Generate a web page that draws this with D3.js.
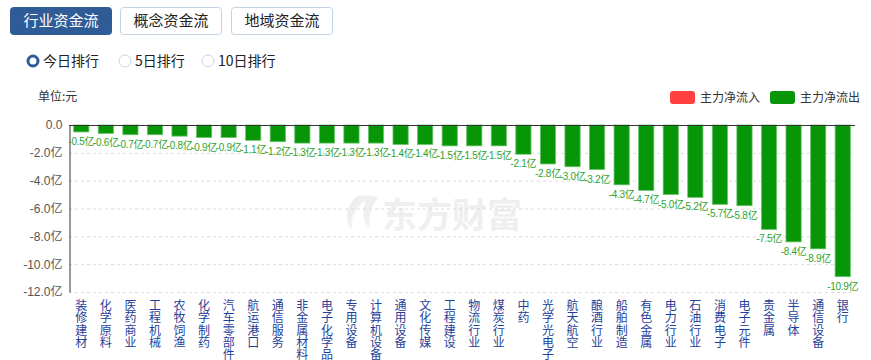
<!DOCTYPE html>
<html><head><meta charset="utf-8">
<script src="https://cdn.jsdelivr.net/npm/d3@7/dist/d3.min.js"></script>
<style>
body{margin:0;background:#fff;font-family:"Microsoft YaHei","Noto Sans CJK SC",sans-serif;}
svg{display:block}
</style></head><body>
<svg id="c" width="871" height="360"></svg>
<script>
const categories = ["装修建材","化学原料","医药商业","工程机械","农牧饲渔","化学制药","汽车零部件","航运港口","通信服务","非金属材料","电子化学品","专用设备","计算机设备","通用设备","文化传媒","工程建设","物流行业","煤炭行业","中药","光学光电子","航天航空","酿酒行业","船舶制造","有色金属","电力行业","石油行业","消费电子","电子元件","贵金属","半导体","通信设备","银行"];
const values = [-0.5,-0.6,-0.7,-0.7,-0.8,-0.9,-0.9,-1.1,-1.2,-1.3,-1.3,-1.3,-1.3,-1.4,-1.4,-1.5,-1.5,-1.5,-2.1,-2.8,-3.0,-3.2,-4.3,-4.7,-5.0,-5.2,-5.7,-5.8,-7.5,-8.4,-8.9,-10.9];
const yTicks = [0,-2,-4,-6,-8,-10,-12];
const tabs = ["行业资金流","概念资金流","地域资金流"];
const radios = ["今日排行","5日排行","10日排行"];
const legendItems = [{name:"主力净流入",color:"#ff4040"},{name:"主力净流出",color:"#079607"}];

const svg = d3.select("#c");
const font = '"Microsoft YaHei","Noto Sans CJK SC",sans-serif';
const numFont = '"Liberation Sans","Noto Sans CJK SC",sans-serif';
const loc = d3.formatLocale({decimal:".",thousands:",",grouping:[3],currency:["",""],minus:"-"});
const f1 = loc.format(".1f");

// tabs
const tabX = [10,120,231];
tabs.forEach((t,i)=>{
  const g = svg.append("g");
  g.append("rect").attr("x",tabX[i]+0.5).attr("y",7.5).attr("width",101).attr("height",27).attr("rx",3)
    .attr("fill", i===0?"#2f5b97":"#fff").attr("stroke", i===0?"#2f5b97":"#c3d3e6");
  g.append("text").attr("x",tabX[i]+51).attr("y",26).attr("text-anchor","middle")
    .attr("font-size",15).attr("font-family",font).attr("fill", i===0?"#fff":"#222").text(t);
});

// radios
const radioPos = [33,125,208];
radios.forEach((r,i)=>{
  const cx = radioPos[i];
  if(i===0){
    svg.append("circle").attr("cx",cx).attr("cy",61).attr("r",5).attr("fill","#fff").attr("stroke","#2f5b97").attr("stroke-width",3);
  } else {
    svg.append("circle").attr("cx",cx).attr("cy",61).attr("r",6).attr("fill","#fff").attr("stroke","#c3d6ea").attr("stroke-width",1);
  }
  svg.append("text").attr("x",cx+10).attr("y",66).attr("font-size",14).attr("font-family",font).attr("fill","#222").text(r);
});

// unit
svg.append("text").attr("x",38).attr("y",101).attr("font-size",12).attr("font-family",font).attr("fill","#333").text("单位:元");

// legend
legendItems.forEach((l,i)=>{
  const x = [670,770][i];
  svg.append("rect").attr("x",x).attr("y",91).attr("width",25).attr("height",13).attr("rx",3).attr("fill",l.color);
  svg.append("text").attr("x",x+30).attr("y",102).attr("font-size",12).attr("font-family",font).attr("fill","#333").text(l.name);
});

// scales
const x = d3.scaleBand().domain(categories).range([69,855]).paddingInner(0.38).paddingOuter(0.19);
const y = d3.scaleLinear().domain([-12,0]).range([292,125]);

// watermark
const wm = svg.append("g");
wm.append("path").attr("d","M357,196 C347,205 343,218 352,230 C350,218 355,208 366,200 C362,212 362,222 370,228 C368,216 372,205 378,197 C372,196 364,195 357,196 Z").attr("fill","#efefef");
wm.append("text").attr("x",452).attr("y",228).attr("text-anchor","middle").attr("font-size",35).attr("font-weight","bold")
  .attr("font-family",font).attr("fill","#efefef").text("东方财富");

// grid
svg.append("g").selectAll("line").data(yTicks.filter(d=>d!==0)).join("line")
  .attr("x1",69).attr("x2",855).attr("y1",d=>y(d)+0.5).attr("y2",d=>y(d)+0.5)
  .attr("stroke","#dcdcdc").attr("stroke-dasharray","3,3");

// y axis
const yAxis = d3.axisLeft(y).tickValues(yTicks).tickSize(0).tickPadding(7)
  .tickFormat(d=> d===0 ? "0.0" : f1(d)+"亿");
const ya = svg.append("g").attr("transform","translate(69.5,0)").call(yAxis);
ya.select(".domain").attr("stroke","#333");
ya.selectAll("text").attr("font-size",12).attr("font-family",numFont).attr("fill","#555");

// bars
svg.append("g").selectAll("rect").data(values).join("rect")
  .attr("x",(d,i)=>x(categories[i])).attr("y",y(0)).attr("width",x.bandwidth())
  .attr("height",d=>y(d)-y(0))
  .attr("fill",d=>d>=0?"#ff4040":"#079607").attr("stroke",d=>d>=0?"#ff8080":"#6cc46c").attr("stroke-width",0.8);

// zero line
svg.append("line").attr("x1",69).attr("x2",855).attr("y1",y(0)+0.5).attr("y2",y(0)+0.5).attr("stroke","#333");

// value labels
svg.append("g").selectAll("text").data(values).join("text")
  .attr("x",(d,i)=>x(categories[i])+x.bandwidth()/2).attr("y",d=>y(d)+13)
  .attr("text-anchor","middle").attr("font-size",10).attr("font-family",numFont).attr("letter-spacing",-0.3)
  .attr("fill","#2ea42e").text(d=>f1(d)+"亿");

// x labels, one character per line
const xl = svg.append("g").selectAll("text").data(categories).join("text")
  .attr("text-anchor","middle").attr("font-size",12).attr("font-family",font).attr("fill","#1f3f9a");
xl.each(function(c){
  const t = d3.select(this);
  const cx = x(c)+x.bandwidth()/2;
  Array.from(c).forEach((ch,k)=>{
    t.append("tspan").attr("x",cx).attr("y",310+k*12.3).text(ch);
  });
});
</script>
</body></html>
